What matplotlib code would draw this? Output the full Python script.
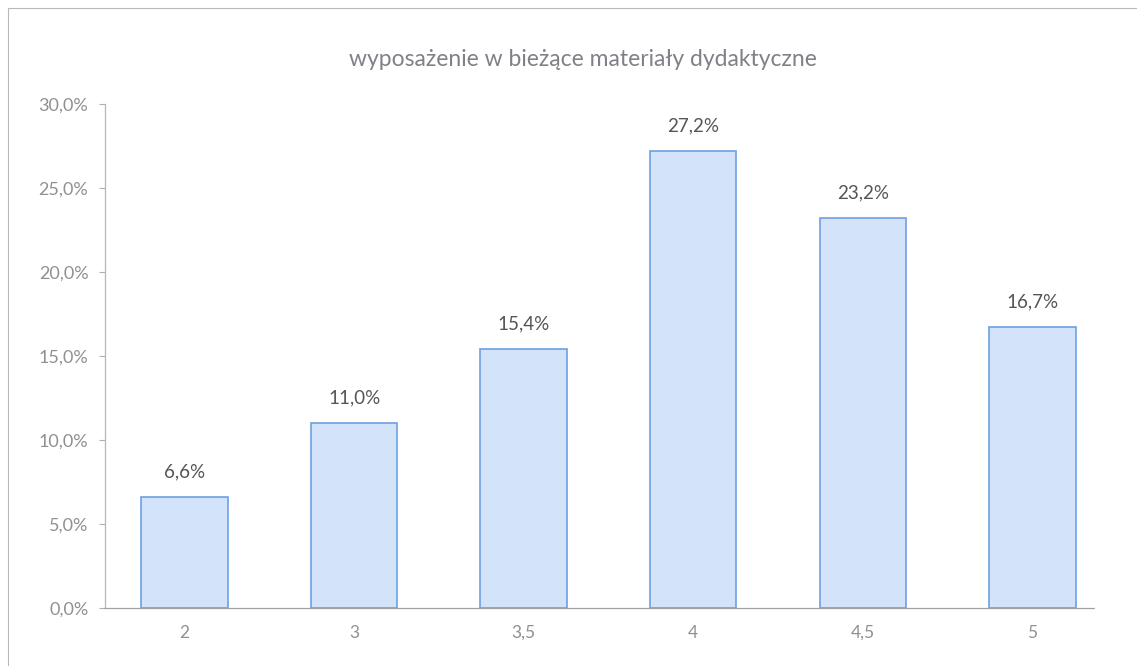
import matplotlib
matplotlib.use("Agg")
import matplotlib.pyplot as plt
from matplotlib.patches import Rectangle
from matplotlib.ticker import FuncFormatter

categories = ["2", "3", "3,5", "4", "4,5", "5"]
values = [6.6, 11.0, 15.4, 27.2, 23.2, 16.7]
yticks = [0, 5, 10, 15, 20, 25, 30]
title = "wyposażenie w bieżące materiały dydaktyczne"

plt.rcParams['font.family'] = ['Lato', 'DejaVu Sans']

fig = plt.figure(figsize=(11.37, 6.66), dpi=100)
ax = fig.add_axes([105/1137, 1-608/666, (1095-105)/1137, (608-104)/666])

x = list(range(len(categories)))
ax.bar(x, values, width=0.51, color="#d3e3f9", edgecolor="#6f9fe3", linewidth=1.2, zorder=2)
for xi, v in zip(x, values):
    ax.text(xi, v + 1.0, f"{v:.1f}".replace(".", ",") + "%", ha="center", va="bottom",
            fontsize=13.5, color="#555555")

ax.set_xlim(-0.47, 5.37)
ax.set_ylim(0, 30)
ax.set_yticks(yticks)
ax.yaxis.set_major_formatter(FuncFormatter(lambda v, p: f"{v:.1f}".replace(".", ",") + "%"))
ax.set_xticks(x)
ax.set_xticklabels(categories)
ax.tick_params(axis="y", length=4, color="#b0b0b0", labelsize=13, labelcolor="#909090", pad=8)
ax.tick_params(axis="x", length=0, labelsize=12.5, labelcolor="#909090", pad=12)
for s in ["top", "right"]:
    ax.spines[s].set_visible(False)
ax.spines["left"].set_color("#b5b5c8")
ax.spines["left"].set_linewidth(0.9)
ax.spines["bottom"].set_color("#a0a0a0")
ax.spines["bottom"].set_linewidth(0.9)
ax.spines["bottom"].set_linestyle((0, (3, 1)))

fig.text(583/1137, 1-60/666, title, ha="center", va="center", fontsize=16.5,
         color="#808088")

fig.patches.append(Rectangle((8/1137, -0.1), 1.2, 1-8/666+0.1, transform=fig.transFigure,
                             fill=False, edgecolor="#b8b8b8", linewidth=0.8))

fig.savefig("out.png", dpi=100, facecolor="white")
